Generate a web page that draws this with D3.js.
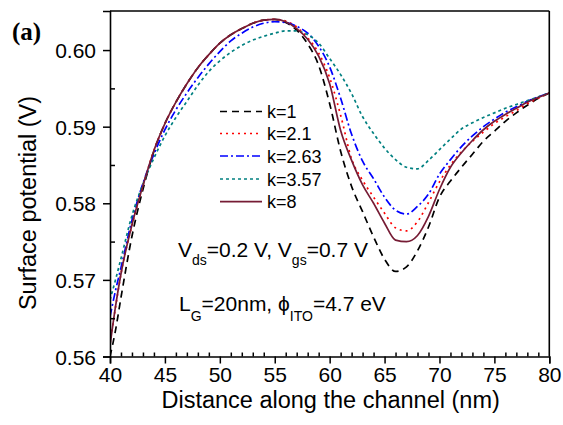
<!DOCTYPE html>
<html>
<head>
<meta charset="utf-8">
<script src="https://cdn.jsdelivr.net/npm/d3@7"></script>
<style>
  html, body { margin: 0; padding: 0; background: #fff; }
  svg { display: block; }
  text { font-family: "Liberation Sans", Arial, sans-serif; fill: #000; }
  text.panel { font-family: "Liberation Serif", "Times New Roman", serif; font-weight: bold; }
</style>
</head>
<body>
<svg id="chart" width="563" height="425"></svg>
<script>
// ---- data ----
const distance = [40, 40.5, 41, 42, 43, 44, 45, 46, 47, 48, 49, 50, 51, 52, 53, 54, 55, 56, 57, 58, 59, 60,
                  61, 62, 63, 64, 65, 66, 67, 68, 69, 70, 71, 72, 73, 74, 75, 76, 77, 78, 79, 80];

const k1   = [0.5600, 0.5634, 0.5677, 0.5757, 0.5818, 0.5868, 0.5904, 0.5932, 0.5956, 0.5977, 0.5994, 0.6009,
              0.6020, 0.6028, 0.6035, 0.6039, 0.6040, 0.6036, 0.6026, 0.6008, 0.5980, 0.5930,
              0.5868, 0.5822, 0.5789, 0.5756, 0.5727, 0.5711, 0.5717, 0.5738, 0.5769, 0.5808,
              0.5829, 0.5847, 0.5864, 0.5881, 0.5894, 0.5907, 0.5918, 0.5928, 0.5937, 0.5944];
const k2_1 = [0.5617, 0.5664, 0.5708, 0.5771, 0.5823, 0.5869, 0.5904, 0.5932, 0.5956, 0.5977, 0.5994, 0.6009,
              0.6020, 0.6028, 0.6035, 0.6039, 0.6040, 0.6038, 0.6030, 0.6016, 0.5996, 0.5964,
              0.5915, 0.5858, 0.5830, 0.5808, 0.5787, 0.5768, 0.5764, 0.5776, 0.5801, 0.5828,
              0.5850, 0.5867, 0.5881, 0.5893, 0.5904, 0.5913, 0.5921, 0.5930, 0.5937, 0.5944];
const k2_63 = [0.5652, 0.5686, 0.5716, 0.5778, 0.5826, 0.5864, 0.5896, 0.5922, 0.5944, 0.5964, 0.5982, 0.5998,
              0.6012, 0.6022, 0.6030, 0.6035, 0.6037, 0.6036, 0.6031, 0.6022, 0.6005, 0.5978,
              0.5937, 0.5890, 0.5855, 0.5832, 0.5808, 0.5791, 0.5786, 0.5796, 0.5812, 0.5838,
              0.5857, 0.5874, 0.5888, 0.5900, 0.5910, 0.5919, 0.5926, 0.5933, 0.5939, 0.5944];
const k3_57 = [0.5674, 0.5700, 0.5728, 0.5784, 0.5825, 0.5859, 0.5888, 0.5912, 0.5933, 0.5954, 0.5972, 0.5986,
              0.5997, 0.6006, 0.6013, 0.6018, 0.6022, 0.6025, 0.6025, 0.6020, 0.6009, 0.5989,
              0.5968, 0.5943, 0.5913, 0.5891, 0.5872, 0.5857, 0.5847, 0.5845, 0.5856, 0.5870,
              0.5884, 0.5897, 0.5905, 0.5912, 0.5918, 0.5924, 0.5929, 0.5934, 0.5939, 0.5944];
const k8   = [0.5614, 0.5665, 0.5708, 0.5772, 0.5823, 0.5869, 0.5904, 0.5932, 0.5956, 0.5977, 0.5994, 0.6009,
              0.6020, 0.6028, 0.6035, 0.6039, 0.6040, 0.6037, 0.6028, 0.6014, 0.5992, 0.5956,
              0.5895, 0.5856, 0.5824, 0.5800, 0.5774, 0.5752, 0.5750, 0.5758, 0.5783, 0.5818,
              0.5847, 0.5866, 0.5882, 0.5896, 0.5907, 0.5916, 0.5924, 0.5932, 0.5938, 0.5944];

const seriesLabels = ["k=1", "k=2.1", "k=2.63", "k=3.57", "k=8"];
const seriesValues = [k1, k2_1, k2_63, k3_57, k8];
const seriesColors = ["#000000", "#ff0000", "#0000ff", "#008080", "#761c35"];
const seriesDash   = ["7,5", "2,4", "8,3,2,3", "3,3", null];

const xMajorTicks = [40, 45, 50, 55, 60, 65, 70, 75, 80];
const yMajorTicks = [0.56, 0.57, 0.58, 0.59, 0.60];
const yMinorTicks = [0.565, 0.575, 0.585, 0.595];

// ---- layout ----
const svg = d3.select("#chart");
const margin = { left: 110, top: 11, right: 13.7, bottom: 68.5 };
const W = 563, H = 425;
const x = d3.scaleLinear().domain([40, 80]).range([margin.left, W - margin.right]);
const y = d3.scaleLinear().domain([0.56, 0.6051]).range([H - margin.bottom, margin.top]);

svg.append("defs").append("clipPath").attr("id", "clip")
  .append("rect").attr("x", x(40)).attr("y", y(0.6051))
  .attr("width", x(80) - x(40)).attr("height", y(0.56) - y(0.6051));

// curves
const line = d3.line().curve(d3.curveMonotoneX);
const gLines = svg.append("g").attr("clip-path", "url(#clip)");
seriesValues.forEach((vals, i) => {
  gLines.append("path")
    .attr("d", line(distance.map((d, j) => [x(d), y(vals[j])])))
    .attr("fill", "none")
    .attr("stroke", seriesColors[i])
    .attr("stroke-width", 1.7)
    .attr("stroke-dasharray", seriesDash[i]);
});

// frame (top, right)
svg.append("line").attr("x1", x(40)).attr("x2", x(80)).attr("y1", y(0.6051)).attr("y2", y(0.6051))
  .attr("stroke", "#000").attr("stroke-width", 1.6);
svg.append("line").attr("x1", x(80)).attr("x2", x(80)).attr("y1", y(0.6051)).attr("y2", y(0.56))
  .attr("stroke", "#000").attr("stroke-width", 1.6);

// x axis
const xAxisMajor = d3.axisBottom(x).tickValues(xMajorTicks).tickSize(7).tickPadding(4).tickFormat(d3.format("d"));
const gx = svg.append("g").attr("transform", `translate(0,${y(0.56)})`).call(xAxisMajor);
const xMinor = d3.range(41, 80, 1).filter(v => v % 5 !== 0);
const gxMinor = svg.append("g").attr("transform", `translate(0,${y(0.56)})`)
  .call(d3.axisTop(x).tickValues(xMinor).tickSize(4).tickFormat(""));
// y axis
const yAxisMajor = d3.axisLeft(y).tickValues(yMajorTicks).tickSize(7).tickPadding(7).tickFormat(d3.format(".2f"));
const gy = svg.append("g").attr("transform", `translate(${x(40)},0)`).call(yAxisMajor);
const gyMinor = svg.append("g").attr("transform", `translate(${x(40)},0)`)
  .call(d3.axisRight(y).tickValues(yMinorTicks).tickSize(5).tickFormat(""));

[gx, gxMinor, gy, gyMinor].forEach(g => {
  g.selectAll(".domain").attr("stroke", "#000").attr("stroke-width", 1.6);
  g.selectAll(".tick line").attr("stroke", "#000").attr("stroke-width", 1.5);
});
gxMinor.select(".domain").remove();
gyMinor.select(".domain").remove();
gx.selectAll(".tick text").attr("font-size", 21).attr("fill", "#000");
gy.selectAll(".tick text").attr("font-size", 21).attr("fill", "#000").attr("dy", "0.36em");

// axis titles
svg.append("text").attr("x", (x(40) + x(80)) / 2 + 1).attr("y", 408)
  .attr("text-anchor", "middle").attr("font-size", 23.5).text("Distance along the channel (nm)");
svg.append("text").attr("transform", `translate(36,${203}) rotate(-90)`)
  .attr("text-anchor", "middle").attr("font-size", 23.5).text("Surface potential (V)");

// panel label
svg.append("text").attr("class", "panel").attr("x", 12).attr("y", 40)
  .attr("font-size", 25).text("(a)");

// legend
const legendRowY = [111.5, 133.5, 156, 179, 201.7];
seriesLabels.forEach((lab, i) => {
  svg.append("line").attr("x1", 220).attr("x2", 262)
    .attr("y1", legendRowY[i]).attr("y2", legendRowY[i])
    .attr("stroke", seriesColors[i]).attr("stroke-width", 1.7)
    .attr("stroke-dasharray", seriesDash[i]);
  svg.append("text").attr("x", 267).attr("y", legendRowY[i] + 6.5)
    .attr("font-size", 18).text(lab);
});

// annotations
const t1 = svg.append("text").attr("x", 178).attr("y", 257).attr("font-size", 21);
t1.append("tspan").text("V");
t1.append("tspan").attr("dy", 8).attr("font-size", 14).text("ds");
t1.append("tspan").attr("dy", -8).text("=0.2 V, V");
t1.append("tspan").attr("dy", 8).attr("font-size", 14).text("gs");
t1.append("tspan").attr("dy", -8).text("=0.7 V");

const t2 = svg.append("text").attr("x", 179).attr("y", 311).attr("font-size", 21);
t2.append("tspan").text("L");
t2.append("tspan").attr("dy", 10).attr("font-size", 14).text("G");
t2.append("tspan").attr("dy", -10).text("=20nm, \u03D5");
t2.append("tspan").attr("dy", 10).attr("font-size", 14).text("ITO");
t2.append("tspan").attr("dy", -10).text("=4.7 eV");
</script>
</body>
</html>
